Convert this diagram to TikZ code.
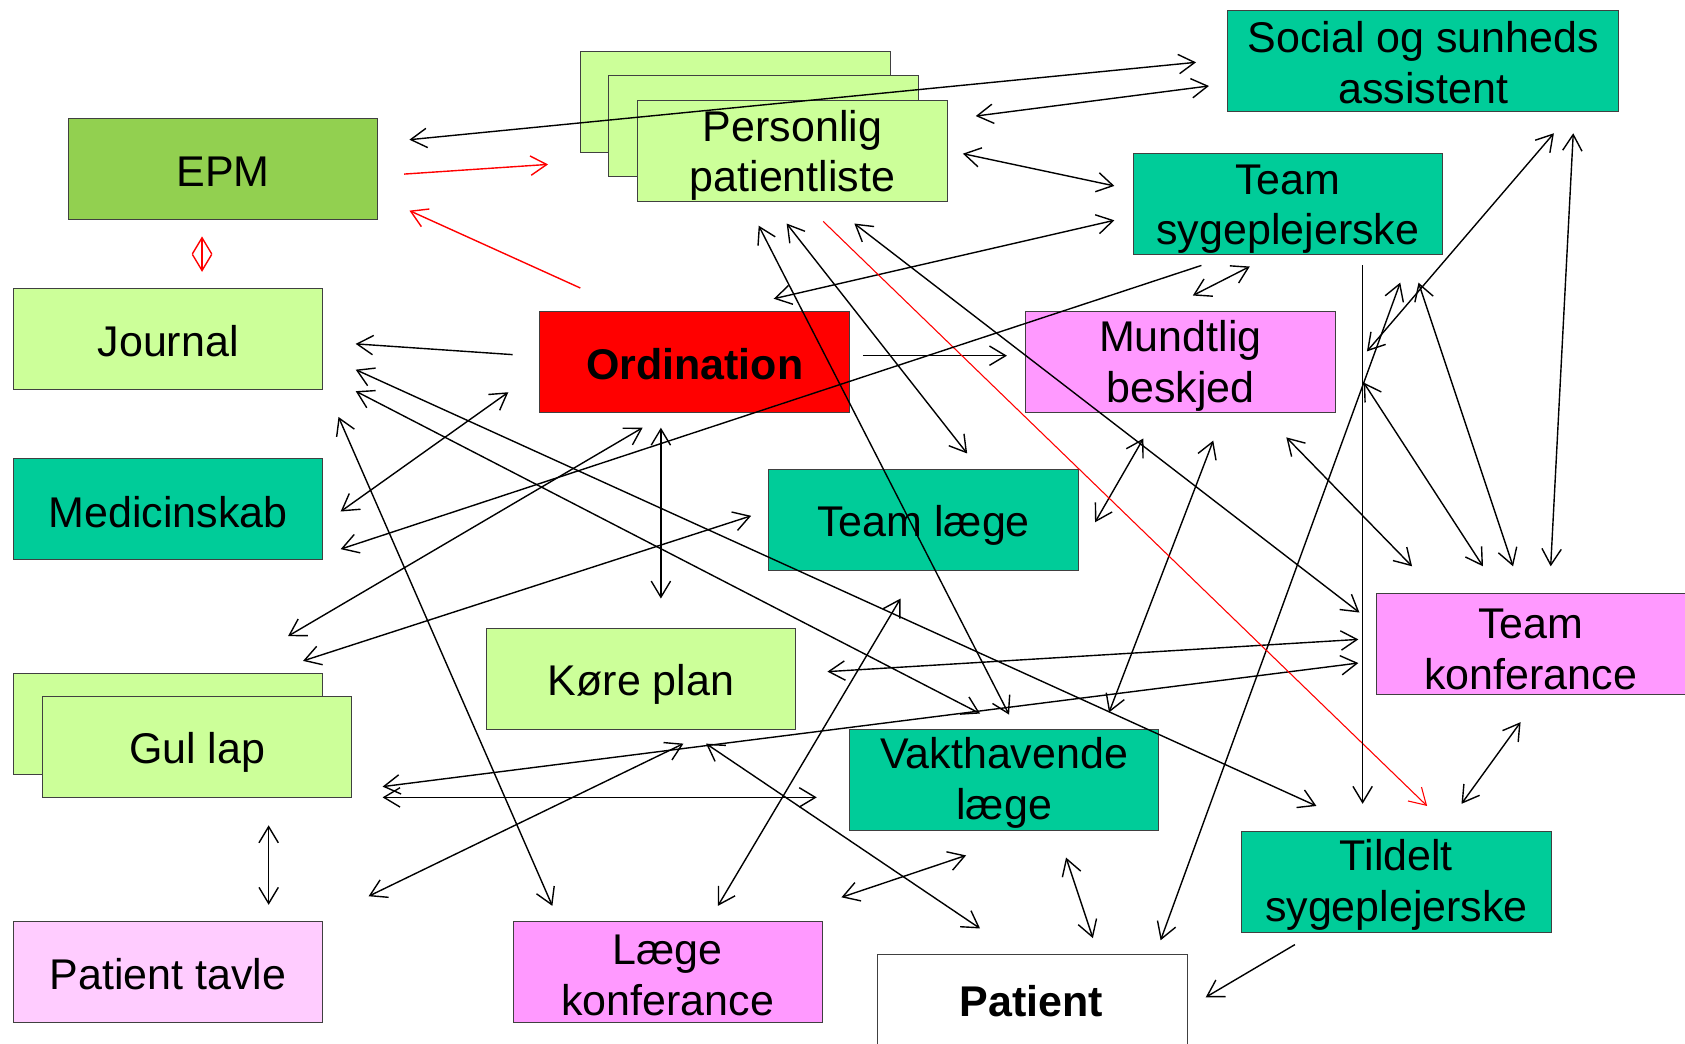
\documentclass[tikz,border=0pt]{standalone}
\usepackage{fontspec}
\setmainfont{Liberation Sans}
\usetikzlibrary{arrows.meta}
\definecolor{epmg}{HTML}{92D050}
\definecolor{lgreen}{HTML}{CCFF99}
\definecolor{tealg}{HTML}{00CC99}
\definecolor{pinkb}{HTML}{FF99FF}
\definecolor{lpink}{HTML}{FFCCFF}
\tikzset{bb/.tip={Straight Barb[length=15pt,width=18pt]}}
\newcommand{\mybox}[5][-4pt]{%
  \node[box,#2] (#3) at (#4) {};
  \node[btext] (#3t) at ([yshift=#1]#3.center) {#5};}
\begin{document}
\begin{tikzpicture}[x=1pt,y=-1pt,
  box/.style={draw=black!75,line width=0.9pt,minimum width=288pt,minimum height=94pt,
    inner sep=0pt,anchor=north west},
  btext/.style={inner sep=0pt,align=center,anchor=center,font=\fontsize{40}{47}\selectfont},
  one/.style={line width=1.3pt,-bb},
  two/.style={line width=1.3pt,bb-bb}]
\useasboundingbox (0,0) rectangle (1568,971);
\clip (0,0) rectangle (1568,971);
\fill[white] (0,0) rectangle (1568,971);
% boxes
\mybox[-2pt]{fill=epmg}{epm}{63,110}{EPM}
\node[box,fill=lgreen] (pp1) at (540,47) {};
\node[box,fill=lgreen] (pp2) at (566,70) {};
\mybox{fill=lgreen}{pp}{593,93}{Personlig\\patientliste}
\mybox[-2pt]{fill=tealg,minimum width=364pt}{ssa}{1142,9}{Social og sunheds\\assistent}
\mybox[-5pt]{fill=tealg}{tsy}{1054,142}{Team\\sygeplejerske}
\mybox[-2pt]{fill=lgreen}{jour}{12,268}{Journal}
\mybox[-2pt]{fill=red}{ord}{502,289}{\textbf{Ordination}}
\mybox{fill=pinkb}{mund}{954,289}{Mundtlig\\beskjed}
\mybox[-3pt]{fill=tealg}{med}{12,426}{Medicinskab}
\mybox[-5pt]{fill=tealg}{tl}{715,436}{Team læge}
\mybox[-5pt]{fill=pinkb}{tk}{1280,552}{Team\\konferance}
\mybox[-5pt]{fill=lgreen}{kp}{452,584}{Køre plan}
\node[box,fill=lgreen] (gl1) at (12,626) {};
\mybox[-5pt]{fill=lgreen}{gl}{39,648}{Gul lap}
\mybox[-3pt]{fill=tealg}{vl}{790,678}{Vakthavende\\læge}
\mybox[-3pt]{fill=tealg}{ts}{1155,773}{Tildelt\\sygeplejerske}
\mybox[-2pt]{fill=lpink}{ptv}{12,857}{Patient tavle}
\mybox[-3pt]{fill=pinkb}{lk}{477,857}{Læge\\konferance}
\node[box,fill=white,minimum width=289pt] (pat) at (816,888) {};
\node[btext] (patt) at (960,932) {\textbf{Patient}};
% connector end points
\coordinate (a1) at (381,130);  \coordinate (b1) at (1113,58);
\coordinate (a2) at (908,108);  \coordinate (b2) at (1125,80);
\coordinate (a3) at (376,162);  \coordinate (b3) at (510,153);
\coordinate (a4) at (540,268);  \coordinate (b4) at (381,196);
\coordinate (a5) at (188,220);  \coordinate (b5) at (188,253);
\coordinate (a6) at (896,143);  \coordinate (b6) at (1037,173);
\coordinate (a7) at (720,278);  \coordinate (b7) at (1037,205);
\coordinate (a8) at (477,330);  \coordinate (b8) at (331,320);
\coordinate (a9) at (803,331);  \coordinate (b9) at (937,331);
\coordinate (a10) at (615,398); \coordinate (b10) at (615,557);
\coordinate (a11) at (706,210); \coordinate (b11) at (939,665);
\coordinate (a12) at (732,208); \coordinate (b12) at (900,422);
\coordinate (a13) at (766,206); \coordinate (b13) at (1328,750);
\coordinate (a14) at (795,208); \coordinate (b14) at (1265,570);
\coordinate (a15) at (1118,247); \coordinate (b15) at (317,511);
\coordinate (a16) at (1110,275); \coordinate (b16) at (1163,248);
\coordinate (a17) at (1268,247); \coordinate (b17) at (1268,748);
\coordinate (a18) at (1272,327); \coordinate (b18) at (1446,124);
\coordinate (a19) at (1464,124); \coordinate (b19) at (1443,527);
\coordinate (a20) at (1303,263); \coordinate (b20) at (1080,875);
\coordinate (a21) at (1320,263); \coordinate (b21) at (1408,527);
\coordinate (a22) at (1269,356); \coordinate (b22) at (1380,527);
\coordinate (a23) at (1197,407); \coordinate (b23) at (1314,527);
\coordinate (a24) at (1064,408); \coordinate (b24) at (1019,486);
\coordinate (a25) at (1129,410); \coordinate (b25) at (1032,663);
\coordinate (a26) at (331,344); \coordinate (b26) at (1225,750);
\coordinate (a27) at (331,364); \coordinate (b27) at (912,664);
\coordinate (a28) at (315,388); \coordinate (b28) at (514,843);
\coordinate (a29) at (317,476); \coordinate (b29) at (473,365);
\coordinate (a30) at (268,592); \coordinate (b30) at (598,398);
\coordinate (a31) at (282,615); \coordinate (b31) at (699,480);
\coordinate (a32) at (356,732); \coordinate (b32) at (1264,617);
\coordinate (a33) at (356,742); \coordinate (b33) at (760,742);
\coordinate (a34) at (250,768); \coordinate (b34) at (250,842);
\coordinate (a35) at (343,834); \coordinate (b35) at (636,692);
\coordinate (a36) at (770,625); \coordinate (b36) at (1264,595);
\coordinate (a37) at (657,692); \coordinate (b37) at (912,864);
\coordinate (a38) at (668,843); \coordinate (b38) at (838,557);
\coordinate (a39) at (783,835); \coordinate (b39) at (899,796);
\coordinate (a40) at (992,798); \coordinate (b40) at (1017,873);
\coordinate (a41) at (1205,879); \coordinate (b41) at (1122,928);
\coordinate (a42) at (1415,672); \coordinate (b42) at (1360,748);
% connectors
\draw[two] (a1) -- (b1);
\draw[two] (a2) -- (b2);
\draw[one,red] (a3) -- (b3);
\draw[one,red] (a4) -- (b4);
\draw[two,red] (a5) -- (b5);
\foreach \i in {6,7,10,11,12,14,16,18,19,20,21,22,23,24,25,26,27,28,29,30,31,32,33,34,35,36,37,38,39,40,42}
  \draw[two] (a\i) -- (b\i);
\draw[one] (a8) -- (b8);
\draw[one] (a9) -- (b9);
\draw[one,red,line width=1pt] (a13) -- (b13);
\draw[one] (a15) -- (b15);
\draw[one] (a17) -- (b17);
\draw[one] (a41) -- (b41);
\end{tikzpicture}
\end{document}
